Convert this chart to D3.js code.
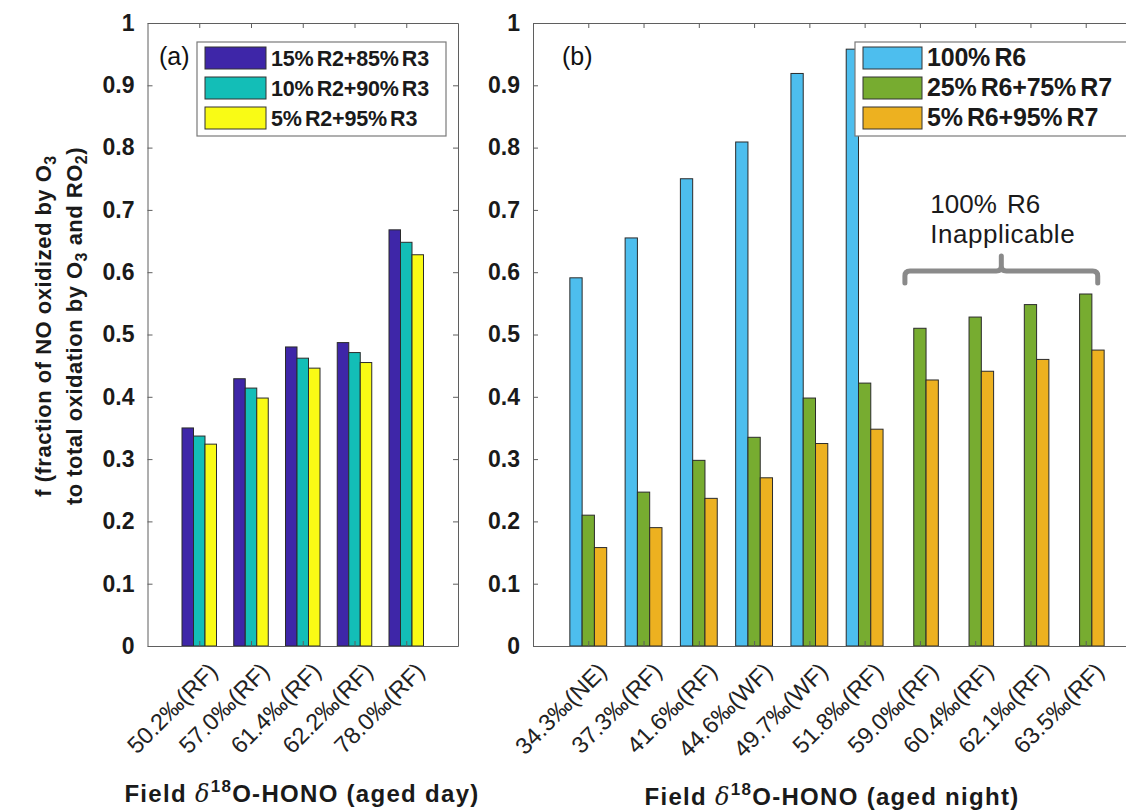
<!DOCTYPE html>
<html>
<head>
<meta charset="utf-8">
<script src="https://cdn.jsdelivr.net/npm/d3@7"></script>
<style>
  body { margin: 0; background: #fff; }
  svg { font-family: "Liberation Sans", Arial, sans-serif; }
  .tick-y { font-weight: bold; font-size: 23px; fill: #1a1a1a; }
  .tick-x { font-size: 23.5px; fill: #222; }
  .leg { font-weight: bold; fill: #1a1a1a; word-spacing: -2.5px; letter-spacing: -0.2px; }
</style>
</head>
<body>
<svg id="chart" width="1126" height="810"></svg>
<script>
'use strict';

// panel (a): aged day
var catsA = ["50.2‰(RF)", "57.0‰(RF)", "61.4‰(RF)", "62.2‰(RF)", "78.0‰(RF)"],
    namesA = ["15% R2+85% R3", "10% R2+90% R3", "5% R2+95% R3"],
    r2_15 = [0.350, 0.429, 0.480, 0.487, 0.668],
    r2_10 = [0.337, 0.414, 0.462, 0.471, 0.648],
    r2_5  = [0.324, 0.398, 0.446, 0.455, 0.628],
    colorsA = ["#3e26a8", "#13beb7", "#f9fb15"];

// panel (b): aged night
var catsB = ["34.3‰(NE)", "37.3‰(RF)", "41.6‰(RF)", "44.6‰(WF)", "49.7‰(WF)",
             "51.8‰(RF)", "59.0‰(RF)", "60.4‰(RF)", "62.1‰(RF)", "63.5‰(RF)"],
    namesB = ["100% R6", "25% R6+75% R7", "5% R6+95% R7"],
    r6_100 = [0.591, 0.655, 0.750, 0.809, 0.919, 0.958, null, null, null, null],
    r6_25  = [0.210, 0.247, 0.298, 0.335, 0.398, 0.422, 0.510, 0.528, 0.548, 0.565],
    r6_5   = [0.158, 0.190, 0.237, 0.270, 0.325, 0.348, 0.427, 0.441, 0.460, 0.475],
    colorsB = ["#4dbeee", "#77ac30", "#edb120"];

var yTicks = [0, 0.1, 0.2, 0.3, 0.4, 0.5, 0.6, 0.7, 0.8, 0.9, 1];

var svg = d3.select("#chart"),
    yTop = 23, yBottom = 646,
    axisCol = "#5f5f5f";

var y = d3.scaleLinear().domain([0, 1]).range([yBottom, yTop]);

function panel(opt) {
  var n = opt.cats.length,
      x = d3.scaleLinear().domain([0, n + 1]).range([opt.left, opt.right]),
      g = svg.append("g"),
      bw = 2 / 9; // each bar, in category units

  // bars
  opt.series.forEach(function(vals, j) {
    g.selectAll(null)
      .data(vals.map(function(v, i) { return {v: v, i: i}; }).filter(function(d) { return d.v != null; }))
      .enter().append("rect")
        .attr("x", function(d) { return x(d.i + 1 + (j - 1.5) * bw); })
        .attr("width", x(bw) - x(0))
        .attr("y", function(d) { return y(d.v); })
        .attr("height", function(d) { return y(0) - y(d.v); })
        .attr("fill", opt.colors[j])
        .attr("stroke", "#2b2b2b")
        .attr("stroke-width", 1);
  });

  // box axes, matlab style
  g.append("g")
      .attr("transform", "translate(0," + yBottom + ")")
      .call(d3.axisBottom(x).tickValues(d3.range(1, n + 1)).tickSizeInner(-5).tickSizeOuter(0).tickFormat(""));
  g.append("g")
      .attr("transform", "translate(0," + yTop + ")")
      .call(d3.axisTop(x).tickValues(d3.range(1, n + 1)).tickSizeInner(-5).tickSizeOuter(0).tickFormat(""));
  g.append("g")
      .attr("transform", "translate(" + opt.left + ",0)")
      .call(d3.axisLeft(y).tickValues(yTicks).tickSizeInner(-5).tickSizeOuter(0).tickPadding(13).tickFormat(d3.format("")))
      .selectAll("text").attr("class", "tick-y");
  g.append("g")
      .attr("transform", "translate(" + opt.right + ",0)")
      .call(d3.axisRight(y).tickValues(yTicks).tickSizeInner(-5).tickSizeOuter(0).tickFormat(""));
  g.selectAll(".domain, .tick line").attr("stroke", axisCol);
  g.selectAll(".tick text").attr("fill", "#1a1a1a").attr("font-size", null).attr("font-family", null);

  // rotated category labels
  g.selectAll(".tick-x")
    .data(opt.cats)
    .enter().append("text")
      .attr("class", "tick-x")
      .attr("text-anchor", "end")
      .attr("transform", function(d, i) { return "translate(" + (x(i + 1) + 14) + "," + (yBottom + 21) + ") rotate(-45)"; })
      .attr("dy", "0.35em")
      .text(function(d) { return d; });

  // panel letter
  g.append("text")
      .attr("x", opt.letterX).attr("y", 65)
      .attr("font-size", 25).attr("fill", "#111")
      .text(opt.letter);

  // legend
  var lg = g.append("g").attr("transform", "translate(" + opt.legX + ",42)");
  lg.append("rect")
      .attr("width", opt.legW).attr("height", 94)
      .attr("fill", "#fff").attr("stroke", "#7a7a7a").attr("stroke-width", 1.2);
  opt.names.forEach(function(nm, j) {
    lg.append("rect")
        .attr("x", 8).attr("y", 5 + j * 30)
        .attr("width", opt.swW).attr("height", 22)
        .attr("fill", opt.colors[j]).attr("stroke", "#333");
    lg.append("text")
        .attr("class", "leg")
        .attr("x", opt.swW + 13).attr("y", 24 + j * 30)
        .attr("font-size", opt.legFont)
        .text(nm);
  });

  // x title
  var t = g.append("text")
      .attr("x", opt.titleX).attr("y", opt.titleY)
      .attr("text-anchor", "middle")
      .attr("font-size", 24).attr("font-weight", "bold").attr("fill", "#1a1a1a")
      .style("letter-spacing", "1.3px");
  t.append("tspan").text("Field ");
  t.append("tspan").attr("font-family", "'DejaVu Serif', serif").attr("font-style", "italic").attr("font-weight", "normal").text("δ");
  t.append("tspan").attr("font-size", 17).attr("dy", -10).text("18");
  t.append("tspan").attr("dy", 10).text("O-HONO " + opt.titleTail);

  return x;
}

panel({cats: catsA, series: [r2_15, r2_10, r2_5], colors: colorsA, names: namesA,
       left: 147.5, right: 458, letter: "(a)", letterX: 159, legX: 197, legW: 249, swW: 61, legFont: 21.5,
       titleX: 302, titleY: 802, titleTail: "(aged day)"});

var xB = panel({cats: catsB, series: [r6_100, r6_25, r6_5], colors: colorsB, names: namesB,
       left: 533, right: 1141, letter: "(b)", letterX: 562, legX: 855, legW: 290, swW: 59, legFont: 25,
       titleX: 832, titleY: 805, titleTail: "(aged night)"});

// annotation: brace over the groups with no 100% R6 bar
var brace = svg.append("g");
var bx0 = xB(7) - 15, bx1 = xB(10) + 12, by = 271, bm = (bx0 + bx1) / 2;
brace.append("path")
    .attr("d", "M" + bx0 + "," + (by + 12) + " L" + bx0 + "," + (by + 5) + " Q" + bx0 + "," + by + " " + (bx0 + 5) + "," + by +
               " L" + (bm - 5) + "," + by + " Q" + bm + "," + by + " " + bm + "," + (by - 5) + " L" + bm + "," + (by - 15) +
               " M" + bm + "," + (by - 5) + " Q" + bm + "," + by + " " + (bm + 5) + "," + by +
               " L" + (bx1 - 5) + "," + by + " Q" + bx1 + "," + by + " " + bx1 + "," + (by + 5) + " L" + bx1 + "," + (by + 12))
    .attr("fill", "none").attr("stroke", "#8a8a8a").attr("stroke-width", 5).attr("stroke-linecap", "round");
brace.append("text")
    .attr("x", bm - 71).attr("y", 213)
    .attr("font-size", 26).attr("fill", "#1a1a1a").style("word-spacing", "3px").text("100% R6");
brace.append("text")
    .attr("x", bm - 71).attr("y", 243)
    .attr("font-size", 26).attr("fill", "#1a1a1a").style("letter-spacing", "0.5px").text("Inapplicable");

// y title, two rotated lines
var ytitle = [
  [{t: "f (fraction of NO oxidized by O"}, {t: "3", sub: true}],
  [{t: "to total oxidation by O"}, {t: "3", sub: true}, {t: " and RO"}, {t: "2", sub: true}, {t: ")"}]
];
ytitle.forEach(function(parts, k) {
  var tx = svg.append("text")
      .attr("transform", "translate(" + (51 + k * 31) + ",326) rotate(-90)")
      .attr("text-anchor", "middle")
      .attr("font-size", 22).attr("font-weight", "bold").attr("fill", "#1a1a1a")
      .style("letter-spacing", "0.5px");
  parts.forEach(function(p) {
    tx.append("tspan")
      .attr("font-size", p.sub ? 16 : null)
      .attr("baseline-shift", p.sub ? "-30%" : null)
      .text(p.t);
  });
});
</script>
</body>
</html>
